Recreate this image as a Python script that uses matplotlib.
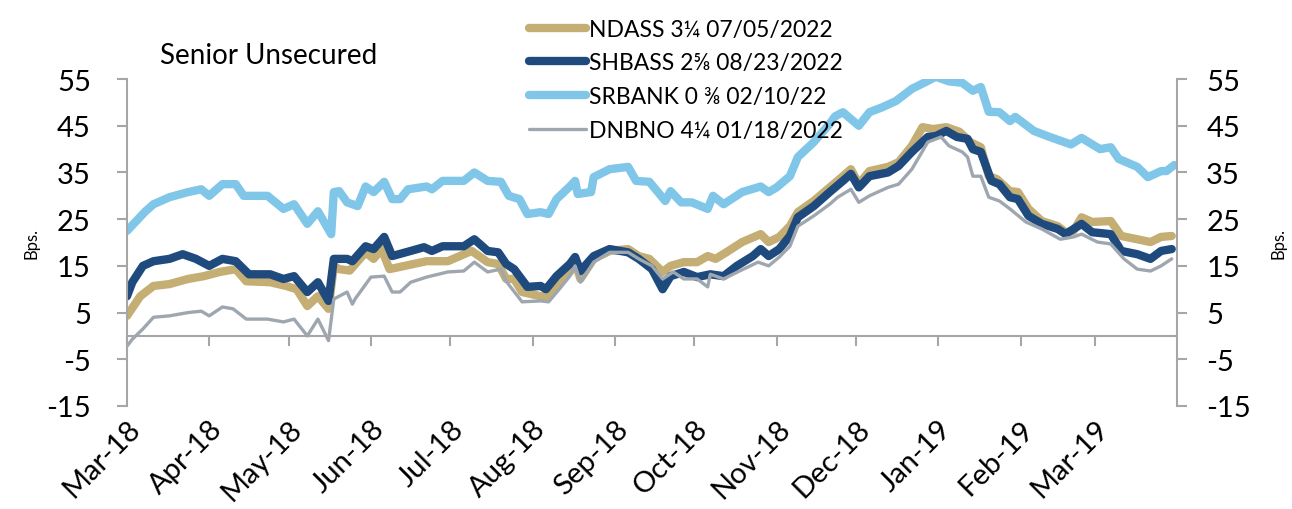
import pandas as pd
import matplotlib.pyplot as plt
import matplotlib.dates as mdates

plt.rcParams['font.family'] = ['Lato', 'DejaVu Sans']
plt.rcParams['axes.unicode_minus'] = False

start = pd.Timestamp('2018-03-01')

# days after 1 Mar 2018, spread in bps
ndass_days = [0, 5, 10, 16, 23, 29, 35, 41, 45, 54, 60, 64, 68, 72, 76, 78, 80, 84,
              90, 93, 96, 99, 108, 113, 121, 130, 136, 140, 143, 146, 149, 156, 159,
              163, 167, 169, 171, 176, 182, 189, 193, 197, 202, 205, 210, 215, 219,
              222, 226, 232, 239, 242, 246, 250, 253, 259, 265, 270, 273, 276, 280,
              287, 291, 296, 300, 304, 309, 314, 318, 322, 325, 328, 333, 336, 340,
              345, 351, 354, 357, 360, 364, 371, 375, 381, 386, 390, 394]
ndass_vals = [4.3, 8.5, 10.7, 11.1, 12.2, 12.8, 13.7, 14.3, 11.7, 11.5, 10.7, 10.0, 6.4,
              8.5, 5.8, 15.0, 14.3, 14.0, 17.9, 16.5, 18.6, 14.3, 15.4, 16.0, 16.0,
              18.2, 15.8, 15.4, 12.2, 12.2, 9.4, 8.5, 8.5, 11.7, 13.7, 15.8, 12.2,
              16.5, 18.2, 18.6, 17.1, 16.5, 13.7, 15.0, 15.8, 15.8, 17.1, 16.5, 17.9,
              20.1, 21.8, 20.1, 21.2, 23.5, 26.5, 28.9, 31.8, 34.2, 35.7, 32.5, 35.3,
              36.2, 37.2, 40.7, 44.7, 44.3, 44.7, 43.7, 41.5, 40.4, 34.2, 33.6, 31.0,
              30.8, 27.2, 24.6, 23.5, 22.2, 22.5, 25.4, 24.4, 24.6, 21.4, 20.7, 20.1,
              21.2, 21.4]

shbass_days = [0, 2, 6, 10, 16, 21, 26, 31, 36, 41, 46, 54, 59, 63, 68, 72, 76, 78, 83,
               85, 90, 93, 97, 100, 107, 112, 115, 119, 127, 131, 136, 140, 143, 146,
               151, 156, 158, 162, 167, 169, 171, 176, 182, 189, 193, 198, 202, 205,
               210, 215, 220, 225, 230, 236, 239, 242, 246, 250, 253, 259, 265, 270,
               273, 276, 280, 287, 291, 296, 302, 305, 309, 313, 317, 319, 322, 326,
               329, 333, 336, 340, 345, 351, 354, 360, 364, 371, 375, 381, 386, 390, 394]
shbass_vals = [8.5, 11.5, 15.0, 16.0, 16.5, 17.5, 16.5, 15.0, 16.5, 16.0, 13.2, 13.2,
               12.2, 12.8, 9.4, 11.5, 7.5, 16.5, 16.5, 16.0, 19.2, 18.6, 21.2, 17.1,
               18.2, 19.0, 18.2, 19.2, 19.2, 20.7, 18.2, 17.9, 15.4, 14.3, 10.5, 10.7,
               10.0, 12.8, 15.4, 16.9, 13.9, 17.1, 18.6, 17.9, 16.5, 14.3, 10.0, 12.8,
               13.7, 12.6, 13.2, 12.8, 15.0, 17.1, 18.6, 17.1, 18.6, 21.4, 25.4, 27.8,
               30.8, 33.2, 34.7, 31.8, 34.2, 35.0, 36.4, 39.4, 42.6, 42.8, 43.9, 42.6,
               42.2, 40.0, 39.4, 33.2, 32.5, 29.7, 29.3, 25.7, 24.0, 22.9, 21.8, 24.0,
               22.2, 21.8, 18.2, 17.5, 16.5, 18.2, 18.6]

srbank_days = [0, 7, 10, 16, 23, 28, 31, 36, 41, 44, 53, 59, 63, 68, 72, 77, 78, 80,
               83, 87, 90, 93, 97, 100, 103, 106, 113, 115, 119, 127, 131, 136, 141,
               144, 148, 151, 156, 159, 162, 167, 169, 170, 175, 176, 182, 189, 192,
               197, 203, 205, 209, 213, 219, 221, 225, 232, 239, 242, 245, 250, 253,
               259, 265, 267, 270, 276, 280, 285, 290, 296, 302, 305, 310, 315, 319,
               322, 325, 329, 333, 335, 342, 348, 356, 360, 367, 371, 374, 381, 385,
               390, 392, 395]
srbank_vals = [22.5, 26.7, 28.2, 29.7, 30.8, 31.4, 30.0, 32.5, 32.5, 30.0, 30.0, 27.2,
               28.2, 24.0, 26.7, 21.8, 30.8, 31.0, 28.6, 27.8, 32.0, 30.8, 33.0, 29.3,
               29.3, 31.4, 32.0, 31.4, 33.2, 33.2, 35.0, 33.2, 33.0, 30.0, 29.3, 26.1,
               26.5, 26.1, 29.3, 32.0, 33.2, 30.4, 30.8, 34.0, 35.7, 36.2, 33.2, 33.0,
               28.9, 31.0, 28.6, 28.6, 27.2, 30.0, 28.2, 30.8, 32.0, 30.8, 31.8, 34.2,
               38.3, 41.5, 45.4, 47.0, 47.9, 45.0, 47.9, 49.0, 50.3, 52.9, 54.6, 55.5,
               54.5, 54.2, 52.5, 53.3, 48.0, 47.9, 46.0, 46.9, 43.9, 42.6, 41.0, 42.4,
               40.0, 40.4, 37.9, 36.2, 34.0, 35.3, 35.3, 36.6]

dnbno_days = [0, 2, 6, 10, 16, 23, 28, 31, 36, 40, 45, 53, 59, 63, 68, 72, 76, 78, 83,
              85, 86, 92, 97, 100, 103, 107, 113, 121, 127, 131, 136, 141, 143, 149,
              156, 159, 163, 167, 169, 171, 176, 182, 189, 193, 198, 202, 206, 210,
              215, 219, 220, 225, 231, 238, 242, 246, 250, 253, 259, 265, 268, 273,
              276, 280, 287, 291, 296, 302, 307, 310, 315, 317, 319, 322, 325, 329,
              333, 339, 345, 352, 357, 360, 366, 371, 376, 381, 386, 390, 394]
dnbno_vals = [-2.2, -0.7, 1.5, 4.0, 4.3, 5.0, 5.3, 4.3, 6.2, 5.8, 3.6, 3.6, 3.0, 3.6,
              0.0, 3.6, -1.0, 7.9, 9.4, 6.8, 7.9, 12.6, 12.8, 9.4, 9.4, 11.5, 12.6,
              13.7, 13.9, 15.8, 13.7, 14.3, 11.7, 7.3, 7.5, 7.3, 10.0, 12.8, 15.0,
              11.5, 15.8, 17.9, 17.9, 16.5, 15.0, 12.2, 13.7, 12.2, 12.2, 10.5, 13.2,
              12.2, 13.9, 15.8, 15.0, 16.9, 19.2, 23.5, 25.7, 28.2, 29.7, 31.4, 28.6,
              30.0, 31.8, 32.5, 35.7, 41.5, 42.6, 40.7, 39.4, 38.3, 34.2, 34.2, 29.7,
              28.9, 27.2, 24.4, 22.9, 20.7, 21.2, 21.8, 20.1, 19.7, 16.5, 14.3, 13.9,
              15.0, 16.5]

labels = ['NDASS 3¼ 07/05/2022', 'SHBASS 2⅝ 08/23/2022',
          'SRBANK 0 ⅜ 02/10/22', 'DNBNO 4¼ 01/18/2022']
colors = ['#C4AE74', '#1F4A7E', '#7FC6E9', '#9EA7B0']
widths = [6.0, 6.0, 6.0, 2.4]

def to_dates(days):
    return start + pd.to_timedelta(days, unit='D')

series = [(ndass_days, ndass_vals), (shbass_days, shbass_vals),
          (srbank_days, srbank_vals), (dnbno_days, dnbno_vals)]

fig = plt.figure(figsize=(12.92, 5.10), dpi=100)
ax = fig.add_axes([0.0983, 0.202, 0.8127, 0.641])
ax2 = ax.twinx()

for (d, v), lab, c, w in zip(series, labels, colors, widths):
    ax.plot(to_dates(d), v, color=c, lw=w, label=lab,
            solid_capstyle='round', solid_joinstyle='round')

grey = '#A6A6A6'
yticks = [-15, -5, 5, 15, 25, 35, 45, 55]
ax.set_ylim(-15, 55)
ax.set_yticks(yticks)
ax.set_xlim(pd.Timestamp('2018-03-01'), pd.Timestamp('2019-04-01'))
months = pd.date_range('2018-03-01', '2019-03-01', freq='MS')
ax.set_xticks(months)
ax.xaxis.set_major_formatter(mdates.DateFormatter('%b-%y'))

for s in ['top', 'right']:
    ax.spines[s].set_visible(False)
ax.spines['left'].set_color(grey)
ax.spines['left'].set_linewidth(1.5)
ax.spines['bottom'].set_position(('data', 0))
ax.spines['bottom'].set_color(grey)
ax.spines['bottom'].set_linewidth(1.5)
ax.tick_params(axis='y', direction='out', length=7, width=1.5, color=grey,
               labelsize=21, pad=19)
ax.tick_params(axis='x', direction='out', length=7, width=1.5, color=grey,
               labelsize=21, pad=50)
for t in ax.get_xticklabels():
    t.set_rotation(45)
    t.set_ha('right')
    t.set_rotation_mode('anchor')

ax2.set_ylim(-15, 55)
ax2.set_yticks(yticks)
for s in ['top', 'left', 'bottom']:
    ax2.spines[s].set_visible(False)
ax2.spines['right'].set_color(grey)
ax2.spines['right'].set_linewidth(1.5)
ax2.tick_params(axis='y', direction='out', length=7, width=1.5, color=grey,
                labelsize=21, pad=14)

ax.set_ylabel('Bps.', fontsize=12, labelpad=5)
ax2.set_ylabel('Bps.', fontsize=12, labelpad=14)

fig.text(160 / 1292, 1 - 56 / 510, 'Senior Unsecured', fontsize=20, va='center')

fig.legend(loc='upper left', bbox_to_anchor=(515 / 1292, 1 - 6 / 510), frameon=False,
           fontsize=16.5, handlelength=2.5, handletextpad=0.15, labelspacing=0.55,
           borderaxespad=0.2)

fig.savefig('out.png', dpi=100)
